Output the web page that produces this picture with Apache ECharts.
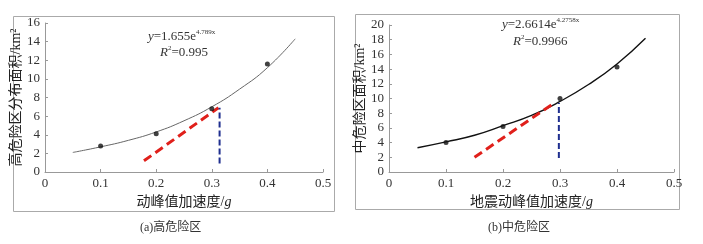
<!DOCTYPE html>
<html><head><meta charset="utf-8">
<script src="https://cdn.jsdelivr.net/npm/echarts@6/dist/echarts.min.js"></script>
<style>html,body{margin:0;padding:0;background:#fff}#c{width:703px;height:244px}</style>
</head><body><div id="c"></div>
<script>
// ---- data ----
const xTicks = [0, 0.1, 0.2, 0.3, 0.4, 0.5];
const aPoints = [[0.1, 2.8], [0.2, 4.1], [0.3, 6.8], [0.4, 11.6]];
const aCurve = [[0.05, 2.1], [0.1, 2.7], [0.15, 3.4], [0.2, 4.3], [0.25, 5.5], [0.3, 7.0], [0.35, 8.9], [0.4, 11.2], [0.45, 14.3]];
const aRed = [[0.178, 1.2], [0.312, 6.9]];
const aBlue = [[0.314, 0.9], [0.314, 6.9]];
const bPoints = [[0.1, 4.0], [0.2, 6.2], [0.3, 10.0], [0.4, 14.3]];
const bCurve = [[0.05, 3.3], [0.1, 4.1], [0.15, 5.0], [0.2, 6.3], [0.25, 7.7], [0.3, 9.6], [0.35, 11.9], [0.4, 14.7], [0.45, 18.2]];
const bRed = [[0.15, 2.0], [0.29, 9.4]];
const bBlue = [[0.298, 1.9], [0.298, 9.4]];
const aYMax = 16, bYMax = 20;

const SERIF = '"Liberation Serif","Noto Sans CJK SC",serif';
const chart = echarts.init(document.getElementById('c'), null, {renderer: 'canvas'});

function xAxisCfg(gi, name) {
  return {
    gridIndex: gi, type: 'value', min: 0, max: 0.5, interval: 0.1,
    axisLine: {show: true, lineStyle: {color: '#999', width: 1}},
    axisTick: {show: true, inside: true, length: 3, lineStyle: {color: '#999'}},
    splitLine: {show: false},
    axisLabel: {color: '#333', fontFamily: SERIF, fontSize: 13, margin: 5,
      formatter: v => v === 0 ? '0' : v.toFixed(1)},
    name: name, nameLocation: 'middle', nameGap: 22,
    nameTextStyle: {color: '#222', fontFamily: SERIF, fontSize: 14,
      rich: {a: {fontFamily: SERIF, fontSize: 14, color: '#222'}, g: {fontFamily: SERIF, fontSize: 14, fontStyle: 'italic', color: '#222'}}}
  };
}
function yAxisCfg(gi, max, name, gap) {
  return {
    gridIndex: gi, type: 'value', min: 0, max: max, interval: 2,
    axisLine: {show: true, lineStyle: {color: '#999', width: 1}},
    axisTick: {show: true, inside: true, length: 3, lineStyle: {color: '#999'}},
    splitLine: {show: false},
    axisLabel: {color: '#333', fontFamily: SERIF, fontSize: 13, margin: 5},
    name: name, nameLocation: 'middle', nameGap: gap, nameRotate: 90,
    nameTextStyle: {color: '#222', fontFamily: SERIF, fontSize: 14}
  };
}
function lineSeries(xi, data, color, width, type, z) {
  return {type: 'line', xAxisIndex: xi, yAxisIndex: xi, data: data, symbol: 'none',
    lineStyle: {color: color, width: width, type: type}, z: z, silent: true};
}
const RICH = {
  i: {fontFamily: SERIF, fontStyle: 'italic', fontSize: 13, fill: '#333', lineHeight: 16, verticalAlign: 'bottom'},
  n: {fontFamily: SERIF, fontSize: 13, fill: '#333', lineHeight: 16, verticalAlign: 'bottom'},
  s: {fontFamily: SERIF, fontSize: 7, fill: '#333', lineHeight: 8, padding: [0, 0, 7, 0], verticalAlign: 'bottom'}
};
function eqText(x, y, coef, expo) {
  return {type: 'text', left: x, top: y, style: {
    text: '{i|y}{n|=' + coef + 'e}{s|' + expo + '}', rich: RICH}};
}
function r2Text(x, y, val) {
  return {type: 'text', left: x, top: y, style: {
    text: '{i|R}{s|2}{n|=' + val + '}', rich: RICH}};
}

chart.setOption({
  animation: false,
  grid: [
    {left: 45, right: 380, top: 23, bottom: 72},
    {left: 389, right: 29, top: 25, bottom: 72}
  ],
  xAxis: [xAxisCfg(0, '{a|动峰值加速度/}{g|g}'), xAxisCfg(1, '{a|地震动峰值加速度/}{g|g}')],
  yAxis: [yAxisCfg(0, aYMax, '高危险区分布面积/km²', 17), yAxisCfg(1, bYMax, '中危险区面积/km²', 17)],
  series: [
    {type: 'line', xAxisIndex: 0, yAxisIndex: 0, data: aCurve, symbol: 'none', smooth: true,
      lineStyle: {color: '#666', width: 1}, z: 2},
    lineSeries(0, aRed, '#e0201b', 3, [9, 5], 3),
    lineSeries(0, aBlue, '#1f2f8f', 2, [6, 3], 3),
    {type: 'scatter', xAxisIndex: 0, yAxisIndex: 0, data: aPoints, symbol: 'circle', symbolSize: 5,
      itemStyle: {color: '#111'}, z: 5},
    {type: 'line', xAxisIndex: 1, yAxisIndex: 1, data: bCurve, symbol: 'none', smooth: true,
      lineStyle: {color: '#111', width: 1.4}, z: 2},
    lineSeries(1, bRed, '#e0201b', 3, [9, 5], 3),
    lineSeries(1, bBlue, '#1f2f8f', 2, [6, 3], 3),
    {type: 'scatter', xAxisIndex: 1, yAxisIndex: 1, data: bPoints, symbol: 'circle', symbolSize: 5,
      itemStyle: {color: '#111'}, z: 5}
  ],
  graphic: [
    {type: 'rect', shape: {x: 13.5, y: 16.5, width: 321, height: 195}, style: {fill: 'none', stroke: '#aaa', lineWidth: 1}, silent: true},
    {type: 'rect', shape: {x: 355.5, y: 14.5, width: 324, height: 195}, style: {fill: 'none', stroke: '#aaa', lineWidth: 1}, silent: true},
    eqText(148, 29, '1.655', '4.789x'),
    r2Text(160, 45, '0.995'),
    eqText(502, 17, '2.6614', '4.2758x'),
    r2Text(513, 34, '0.9966'),
    {type: 'text', left: 140, top: 222, style: {text: '(a)高危险区', fontFamily: SERIF, fontSize: 12, fill: '#333'}},
    {type: 'text', left: 488, top: 222, style: {text: '(b)中危险区', fontFamily: SERIF, fontSize: 12, fill: '#333'}}
  ]
});
</script></body></html>
